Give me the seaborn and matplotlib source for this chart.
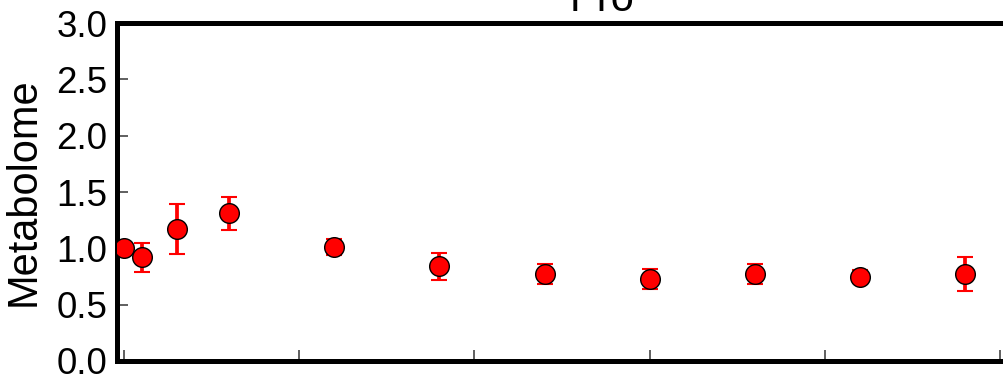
import numpy as np
import pandas as pd
import matplotlib
matplotlib.use("Agg")
import matplotlib.pyplot as plt
import seaborn as sns

# time (h), mean and error of the metabolite
hours = [0, 1, 3, 6, 12, 18, 24, 30, 36, 42, 48]
means = [1.00, 0.92, 1.17, 1.31, 1.01, 0.84, 0.77, 0.73, 0.77, 0.75, 0.77]
errors = [0.02, 0.13, 0.22, 0.15, 0.07, 0.12, 0.09, 0.09, 0.09, 0.06, 0.15]
y_ticks = [0.0, 0.5, 1.0, 1.5, 2.0, 2.5, 3.0]
x_ticks = [0, 10, 20, 30, 40, 50]
title = "Pro"

df = pd.DataFrame({"hours": hours, "mean": means, "err": errors})

sns.set_style("white")
plt.rcParams["font.family"] = ["Liberation Sans", "DejaVu Sans"]
plt.rcParams["text.color"] = "black"
plt.rcParams["axes.labelcolor"] = "black"
plt.rcParams["xtick.labelcolor"] = "black"
plt.rcParams["ytick.labelcolor"] = "black"

fig = plt.figure(figsize=(10.04, 3.78), dpi=100)
ax = fig.add_axes([0.1165, 0.045, 0.967, 0.894])

ax.errorbar(df["hours"], df["mean"], yerr=df["err"], fmt="none",
            ecolor="red", elinewidth=2.7, capsize=5.5, capthick=1.5, zorder=2)
sns.scatterplot(data=df, x="hours", y="mean", ax=ax, color="red",
                edgecolor="black", linewidth=1.0, s=200, zorder=3, legend=False)

ax.set_xlim(-0.4, 55)
ax.set_ylim(0, 3.0)
ax.set_xticks(x_ticks)
ax.set_xticklabels([])
ax.set_yticks(y_ticks)
ax.set_yticklabels([f"{v:.1f}" for v in y_ticks], fontsize=26.5)
ax.tick_params(axis="both", direction="in", length=8, width=1.2,
               color="#444444", pad=7)
ax.tick_params(axis="x", bottom=True)
ax.tick_params(axis="y", left=True)

for sp in ax.spines.values():
    sp.set_linewidth(3.6)
    sp.set_color("black")

ax.set_xlabel("")
ax.set_ylabel("Metabolome", fontsize=30, labelpad=9, color="black")
ax.set_title(title, fontsize=30, pad=9, color="black")

fig.savefig("out.png", dpi=100)
